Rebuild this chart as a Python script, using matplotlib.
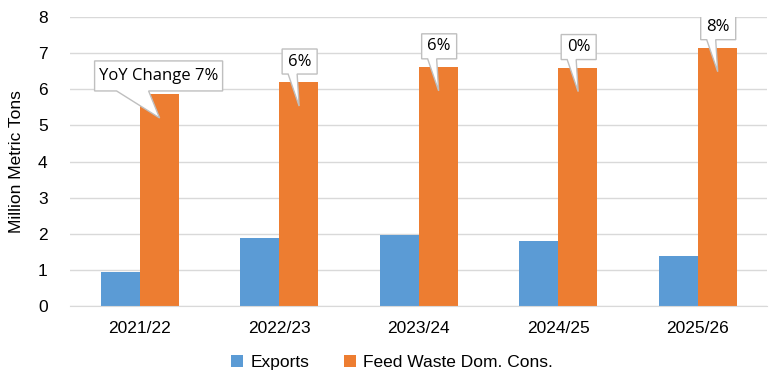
import numpy as np
import matplotlib.pyplot as plt
from matplotlib.patches import Polygon

plt.rcParams["font.family"] = ["Liberation Sans", "DejaVu Sans"]

years = ["2021/22", "2022/23", "2023/24", "2024/25", "2025/26"]
exports = [0.94, 1.88, 1.97, 1.80, 1.39]
feed_waste = [5.87, 6.20, 6.62, 6.60, 7.15]
yoy_labels = ["YoY Change 7%", "6%", "6%", "0%", "8%"]

BLUE = "#5B9BD5"
ORANGE = "#ED7D31"
GRID = "#D9D9D9"
FS = 12.5

fig = plt.figure(figsize=(7.76, 3.86), dpi=100)
ax = fig.add_axes([0.090, 0.207, 0.899, 0.749])

x = np.arange(len(years))
w = 0.28
ax.bar(x - w / 2, exports, w, color=BLUE, label="Exports", zorder=2)
ax.bar(x + w / 2, feed_waste, w, color=ORANGE, label="Feed Waste Dom. Cons.", zorder=2)

ax.set_xlim(-0.5, len(years) - 0.5)
ax.set_ylim(0, 8)
ax.set_yticks(range(0, 9))
ax.set_xticks(x)
ax.set_xticklabels(years, fontsize=FS)
ax.tick_params(axis="y", length=0, pad=16, labelsize=FS)
ax.tick_params(axis="x", length=0, pad=11)
ax.grid(axis="y", color=GRID, linewidth=1, zorder=0)
for s in ["top", "right", "left"]:
    ax.spines[s].set_visible(False)
ax.spines["bottom"].set_color(GRID)
ax.set_ylabel("Million Metric Tons", fontsize=FS, labelpad=10)

# callouts: px -> data
px_x = 139.5
px_y = 36.1


def callout(i, label, bar_top):
    cx = i
    if i == 0:
        x0, x1 = -45 / px_x, 83 / px_x
        bot, top = bar_top + 3 / px_y, bar_top + 33 / px_y
        tl, tr = -23 / px_x, 9 / px_x
    else:
        x0, x1 = 3 / px_x, 38 / px_x
        bot, top = bar_top + 8 / px_y, bar_top + 33 / px_y
        tl, tr = 9 / px_x, 18 / px_x
    tip = (cx + 20 / px_x, bar_top - 24 / px_y)
    pts = [(cx + x0, bot), (cx + tl, bot), tip, (cx + tr, bot),
           (cx + x1, bot), (cx + x1, top), (cx + x0, top)]
    ax.add_patch(Polygon(pts, closed=True, facecolor="white",
                         edgecolor="#BFBFBF", linewidth=1, zorder=4))
    ax.text(cx + (x0 + x1) / 2, (bot + top) / 2, label, ha="center", va="center",
            fontsize=12, family=["Open Sans", "DejaVu Sans"], zorder=5)


for i, (lab, v) in enumerate(zip(yoy_labels, feed_waste)):
    callout(i, lab, v)

fig.legend(loc="lower center", bbox_to_anchor=(0.505, 0.0), ncol=2, frameon=False,
           fontsize=FS, handlelength=0.7, handleheight=0.7, columnspacing=2.0,
           handletextpad=0.4)

fig.savefig("out.png", dpi=100)
